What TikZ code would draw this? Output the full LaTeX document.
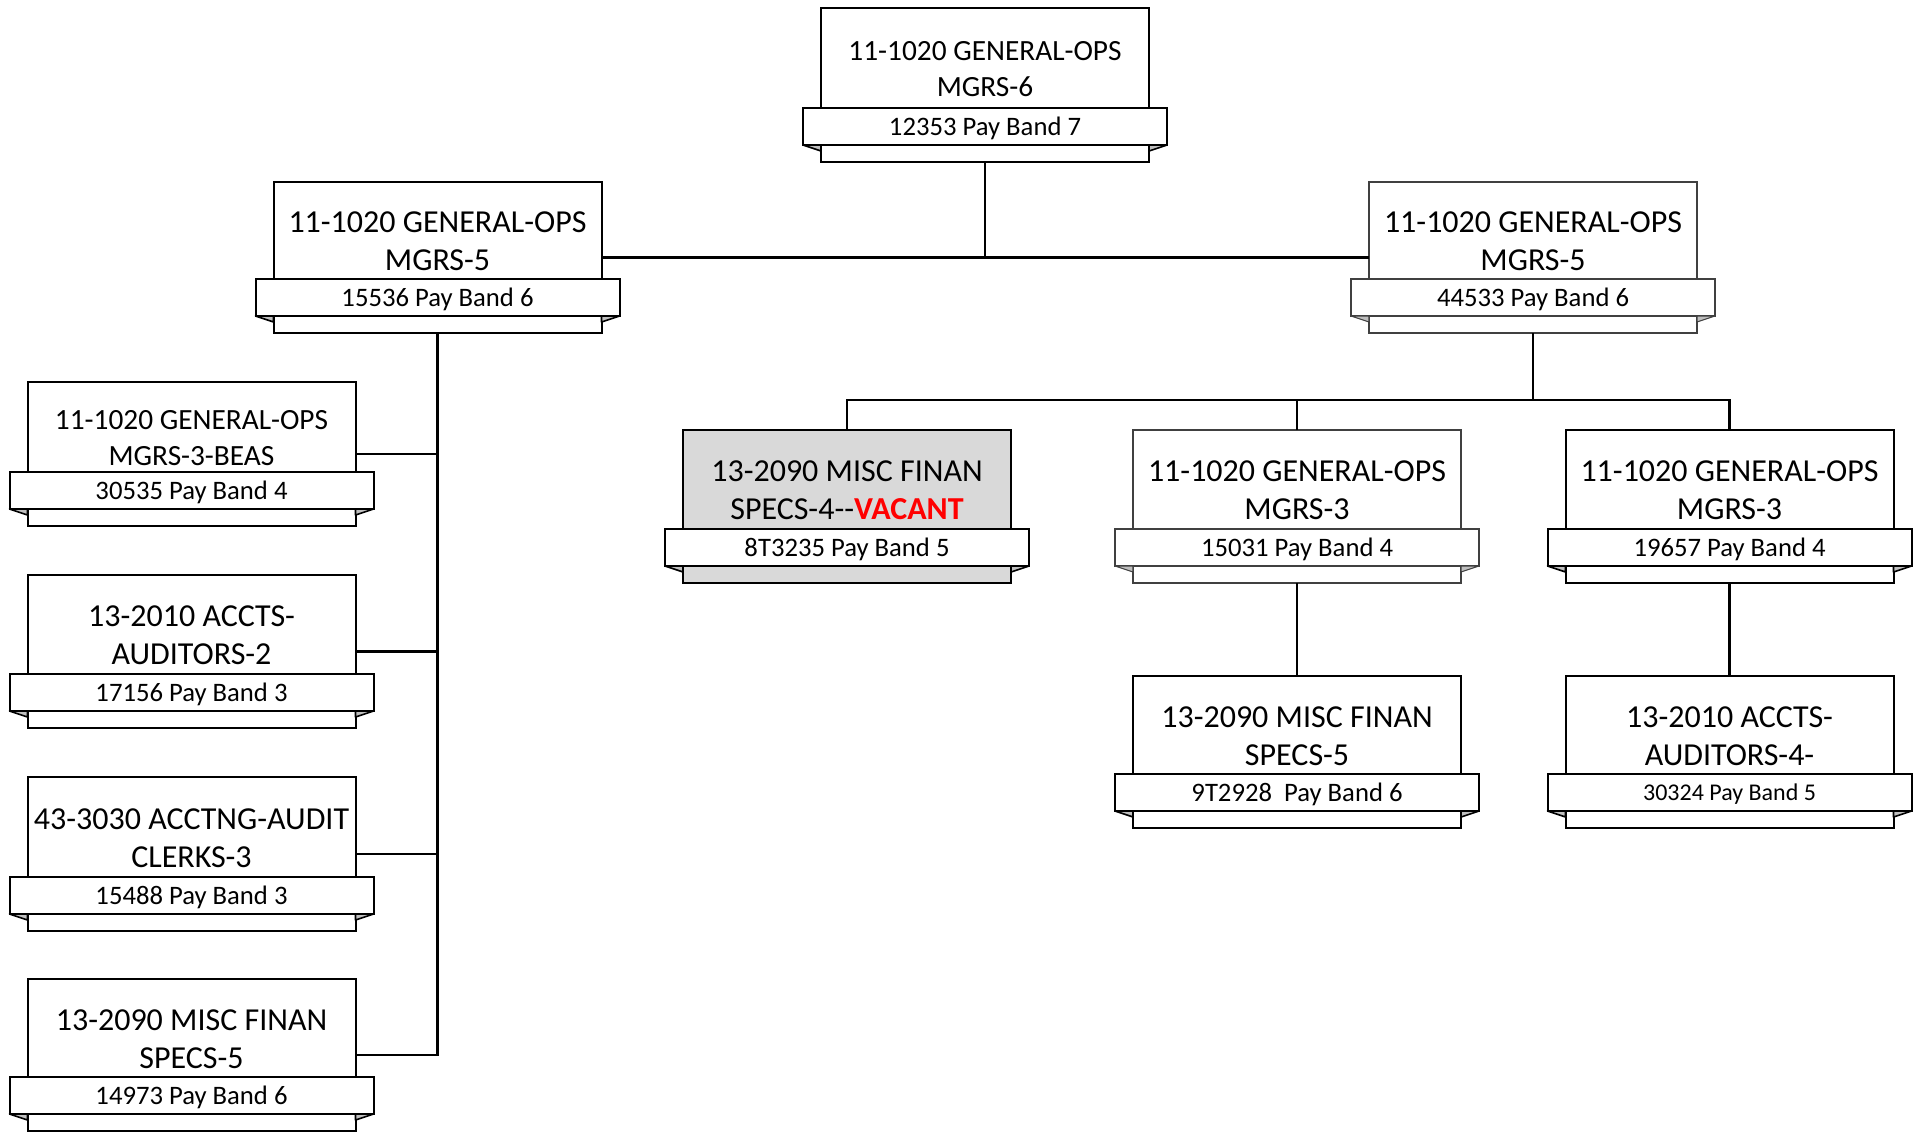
\documentclass[tikz,border=0pt]{standalone}
\usepackage{fontspec}
\setmainfont{Carlito}
\usetikzlibrary{positioning}

\definecolor{vacgray}{HTML}{D9D9D9}
\definecolor{foldgray}{HTML}{BFBFBF}

% one position: body, pay band ribbon, folded ribbon ends, title
\newcommand{\jobbox}[7][]{%
  \begin{scope}[#1]
    \node[jobrect, minimum height={#5*0.75pt}] (#2) at (#3,{#4+#5/2}) {};
    \node[payband] (#2-pay) at (#3,{#4+#5-35.5}) {#7};
    \filldraw[fold] (#2-pay.south west) -- (#2-pay.south west -| #2.west) -- ++(0,6) -- cycle;
    \filldraw[fold] (#2-pay.south east) -- (#2-pay.south east -| #2.east) -- ++(0,6) -- cycle;
    \node[jobtitle] (#2-title) at (#3,{#4+(#5-54)/2+11}) {#6};
  \end{scope}}

\begin{document}
\begin{tikzpicture}[x=0.75pt, y=-0.75pt,
    jobrect/.style={draw, line width=1.5pt, fill=white, minimum width=246pt, inner sep=0pt, outer sep=0pt},
    payband/.style={draw, line width=1.5pt, fill=white, minimum width=273pt, minimum height=27.75pt,
      inner sep=0pt, outer sep=0pt, text height=16.8pt, text depth=4pt, font=\fontsize{20}{24}\selectfont},
    fold/.style={line width=1.2pt, fill=foldgray, line join=round},
    jobtitle/.style={align=center, inner sep=0pt, font=\fontsize{24}{28.5}\selectfont},
    smallttl/.style={jobtitle/.append style={font=\fontsize{22}{26.5}\selectfont}},
    smallpay/.style={payband/.append style={font=\fontsize{18}{22}\selectfont, text height=15pt, text depth=3.5pt}},
    vacant/.style={jobrect/.append style={fill=vacgray}},
    lite/.style={jobrect/.append style={draw=black!75, line width=0.8pt},
      payband/.append style={draw=black!75, line width=0.8pt},
      fold/.append style={draw=black!75, line width=0.8pt}},
    link/.style={line width=1.8pt}]
  \useasboundingbox (0,0) rectangle (1919,1132);

  \jobbox[smallttl]{top}{985}{8}{154}{11-1020 GENERAL-OPS\\MGRS-6}{12353 Pay Band 7}
  \jobbox{ops5L}{437.5}{182}{151}{11-1020 GENERAL-OPS\\MGRS-5}{15536 Pay Band 6}
  \jobbox[lite]{ops5R}{1533}{182}{151}{11-1020 GENERAL-OPS\\MGRS-5}{44533 Pay Band 6}

  % left column
  \jobbox[smallttl]{beas}{191.5}{382}{144}{11-1020 GENERAL-OPS\\MGRS-3-BEAS}{30535 Pay Band 4}
  \jobbox{audit2}{191.5}{575}{153}{13-2010 ACCTS-\\AUDITORS-2}{17156 Pay Band 3}
  \jobbox{clerk3}{191.5}{777}{154}{43-3030 ACCTNG-AUDIT\\CLERKS-3}{15488 Pay Band 3}
  \jobbox{specs5L}{191.5}{979}{152}{13-2090 MISC FINAN\\SPECS-5}{14973 Pay Band 6}

  % right side
  \jobbox[vacant]{vacant}{847}{430}{153}{13-2090 MISC FINAN\\SPECS-4-{}-\textcolor{red}{\bfseries VACANT}}{8T3235 Pay Band 5}
  \jobbox[lite]{ops3M}{1297}{430}{153}{11-1020 GENERAL-OPS\\MGRS-3}{15031 Pay Band 4}
  \jobbox{ops3R}{1729.5}{430}{153}{11-1020 GENERAL-OPS\\MGRS-3}{19657 Pay Band 4}
  \jobbox{specs5M}{1297}{676}{152}{13-2090 MISC FINAN\\SPECS-5}{9T2928~ Pay Band 6}
  \jobbox[smallpay]{audit4}{1729.5}{676}{152}{13-2010 ACCTS-\\AUDITORS-4-}{30324 Pay Band 5}

  \draw[link] (ops5L.east) -- (ops5R.west);
  \draw[link] (top.south) -- (top.south |- ops5L.east);

  \draw[link] (ops5L.south) |- (specs5L.east);
  \foreach \n in {beas, audit2, clerk3}
    \draw[link] (\n.east) -- (\n.east -| ops5L.south);

  \path (ops5R.south) ++(0,67) coordinate (busR);
  \draw[link] (ops5R.south) -- (busR);
  \draw[link] (vacant.north) |- (busR) -| (ops3R.north);
  \draw[link] (ops3M.north) -- (ops3M.north |- busR);
  \draw[link] (ops3M.south) -- (specs5M.north);
  \draw[link] (ops3R.south) -- (audit4.north);
\end{tikzpicture}
\end{document}
